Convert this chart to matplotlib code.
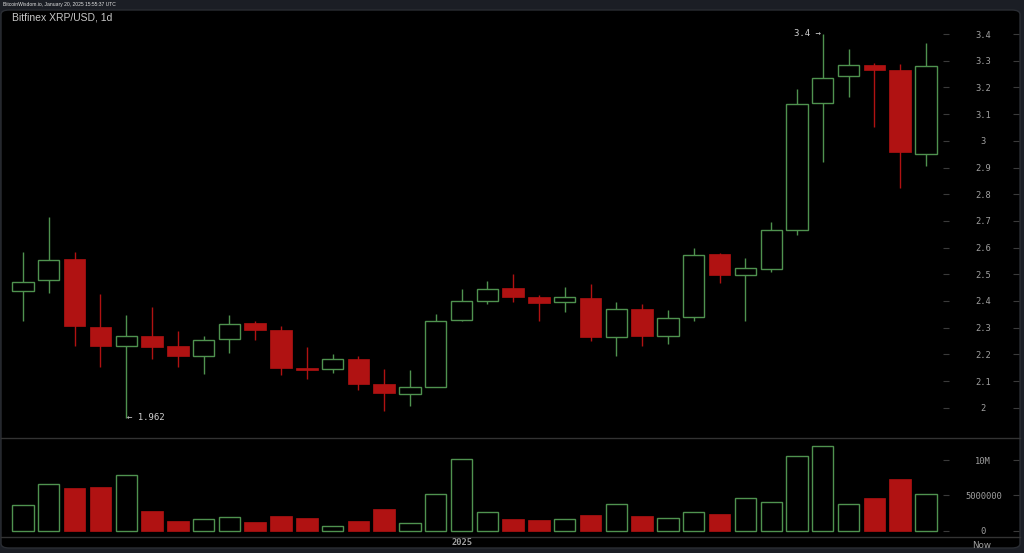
import numpy as np
import matplotlib
matplotlib.use("Agg")
import matplotlib.pyplot as plt
from matplotlib.patches import FancyBboxPatch

# daily candles, Dec 15 2024 .. Jan 19 2025
opens = [2.438, 2.479, 2.557, 2.302, 2.233, 2.270, 2.232, 2.194, 2.257, 2.316,
         2.293, 2.149, 2.146, 2.182, 2.088, 2.052, 2.079, 2.329, 2.401, 2.449,
         2.416, 2.396, 2.412, 2.266, 2.369, 2.269, 2.339, 2.576, 2.497, 2.521,
         2.666, 3.140, 3.242, 3.285, 3.265, 2.949]
highs = [2.582, 2.716, 2.582, 2.425, 2.346, 2.378, 2.288, 2.270, 2.346, 2.326,
         2.306, 2.229, 2.202, 2.194, 2.144, 2.142, 2.351, 2.446, 2.475, 2.501,
         2.421, 2.454, 2.463, 2.396, 2.388, 2.365, 2.597, 2.580, 2.560, 2.695,
         3.195, 3.400, 3.345, 3.290, 3.287, 3.367]
lows = [2.325, 2.429, 2.233, 2.152, 1.962, 2.184, 2.154, 2.126, 2.206, 2.254,
        2.123, 2.107, 2.129, 2.067, 1.989, 2.008, 2.077, 2.326, 2.389, 2.396,
        2.325, 2.360, 2.251, 2.194, 2.232, 2.239, 2.324, 2.469, 2.326, 2.510,
        2.646, 2.920, 3.165, 3.051, 2.822, 2.907]
closes = [2.472, 2.555, 2.306, 2.233, 2.270, 2.229, 2.194, 2.253, 2.315, 2.291,
          2.150, 2.143, 2.182, 2.089, 2.054, 2.078, 2.326, 2.399, 2.446, 2.415,
          2.394, 2.416, 2.265, 2.369, 2.269, 2.338, 2.572, 2.497, 2.523, 2.666,
          3.139, 3.236, 3.285, 3.264, 2.957, 3.281]
volumes = [3.68, 6.57, 6.0, 6.23, 7.93, 2.83, 1.42, 1.61, 1.9, 1.23,
           2.08, 1.8, 0.71, 1.42, 3.03, 1.05, 5.2, 10.2, 2.65, 1.7,
           1.52, 1.61, 2.22, 3.78, 2.08, 1.84, 2.65, 2.32, 4.59, 4.02,
           10.54, 12.0, 3.78, 4.59, 7.37, 5.16]  # millions
price_ticks = [2, 2.1, 2.2, 2.3, 2.4, 2.5, 2.6, 2.7, 2.8, 2.9, 3, 3.1, 3.2, 3.3, 3.4]
price_labels = ["2", "2.1", "2.2", "2.3", "2.4", "2.5", "2.6", "2.7", "2.8", "2.9",
                "3", "3.1", "3.2", "3.3", "3.4"]
vol_ticks = [0, 5, 10]
vol_labels = ["0", "5000000", "10M"]

GREEN = "#4f924f"
RED = "#b01212"
GRAY = "#a0a0a0"
GRID = "#333333"

o = np.array(opens); h = np.array(highs); l = np.array(lows); c = np.array(closes)
v = np.array(volumes)
x = np.arange(len(o))
up = c >= o
W, H = 1024, 553

fig = plt.figure(figsize=(W / 100, H / 100), dpi=100)
fig.patch.set_facecolor("#1b1e25")
panel = FancyBboxPatch((1 / W, 1 - 548 / H), 1019 / W, 538 / H,
                       boxstyle="round,pad=0,rounding_size=0.008",
                       transform=fig.transFigure, facecolor="black",
                       edgecolor="#2a2d33", lw=1, zorder=-10)
fig.add_artist(panel)

def fax(x0, y0, x1, y1):
    return fig.add_axes([x0 / W, 1 - y1 / H, (x1 - x0) / W, (y1 - y0) / H])

xlim = (-23 / 25.8, (943 - 23) / 25.8)

# price panel
ax = fax(0, 12, 943, 438)
ax.set_facecolor("none")
ax.set_xlim(*xlim)
ax.set_ylim(3.4 - (438 - 34) / 267, 3.4 + (34 - 12) / 267)
body_lo = np.minimum(o, c)
body_hi = np.maximum(o, c)
body_h = np.maximum(body_hi - body_lo, 0.004)
ax.vlines(x[up], l[up], body_lo[up], color=GREEN, lw=1.0)
ax.vlines(x[up], body_hi[up], h[up], color=GREEN, lw=1.0)
ax.vlines(x[~up], l[~up], h[~up], color=RED, lw=1.0)
ax.bar(x[up], body_h[up], bottom=body_lo[up], width=0.82, facecolor="black",
       edgecolor=GREEN, lw=1.0, zorder=3)
ax.bar(x[~up], body_h[~up], bottom=body_lo[~up], width=0.84, facecolor=RED,
       edgecolor=RED, lw=0.5, zorder=3)

imax = int(np.argmax(h)); imin = int(np.argmin(l))
ax.annotate(f"{h[imax]:g} \u2192", (x[imax] - 0.08, h[imax]), ha="right", va="center",
            fontsize=6.5, family="DejaVu Sans Mono", color="#cfcfcf")
ax.annotate(f"\u2190 {l[imin]:g}", (x[imin] + 0.05, l[imin]), ha="left", va="center",
            fontsize=6.5, family="DejaVu Sans Mono", color="#cfcfcf")

# volume panel
axv = fax(0, 438, 943, 537)
axv.set_facecolor("none")
axv.set_xlim(*xlim)
axv.set_ylim(-(537 - 530.7) / 7.06, (530.7 - 438) / 7.06)
axv.bar(x[up], v[up], width=0.82, facecolor="black", edgecolor=GREEN, lw=1.0)
axv.bar(x[~up], v[~up], width=0.84, facecolor=RED, edgecolor=RED, lw=0.5)

for a, ticks, labels in [(ax, price_ticks, price_labels), (axv, vol_ticks, vol_labels)]:
    for s in a.spines.values():
        s.set_visible(False)
    a.set_xticks([])
    a.yaxis.tick_right()
    a.set_yticks(ticks)
    a.set_yticklabels(labels, family="DejaVu Sans Mono", fontsize=6.3, color=GRAY)
    a.tick_params(axis="y", direction="out", length=4, width=0.8, color="#3a3a3a", pad=25)
    for t in a.get_yticklabels():
        t.set_horizontalalignment("center")
    # second set of short dashes at the right edge
    pos = a.get_position()
    a2 = fig.add_axes([0, pos.y0, 1019 / W, pos.height])
    a2.set_ylim(a.get_ylim())
    a2.set_facecolor("none")
    a2.set_xticks([])
    a2.yaxis.tick_right()
    a2.set_yticks(ticks)
    a2.set_yticklabels([])
    a2.tick_params(axis="y", direction="in", length=4, width=0.8, color="#3a3a3a")
    for s in a2.spines.values():
        s.set_visible(False)

# separators
for yy in (438, 537):
    fig.add_artist(plt.Line2D([1 / W, 1020 / W], [1 - yy / H, 1 - yy / H],
                              color=GRID, lw=1.0))

# time axis
axv.text(17, -0.5 - (545 - 537) / 7.06, "2025", ha="center", va="center",
         fontsize=6.3, family="DejaVu Sans Mono", fontweight="bold", color=GRAY,
         clip_on=False)
fig.text(982 / W, 1 - 545 / H, "Now", ha="center", va="center", fontsize=6.3,
         family="DejaVu Sans", color=GRAY)

fig.text(12 / W, 1 - 18 / H, "Bitfinex XRP/USD, 1d", ha="left", va="center",
         fontsize=7.5, family="Liberation Sans", color="#c8c8c8")
fig.text(3 / W, 1 - 4.5 / H, "BitcoinWisdom.io, January 20, 2025 15:55:37 UTC",
         ha="left", va="center", fontsize=3.6, family="Liberation Sans",
         color="#e0e0e0")

fig.savefig("out.png", dpi=100, facecolor=fig.get_facecolor())
